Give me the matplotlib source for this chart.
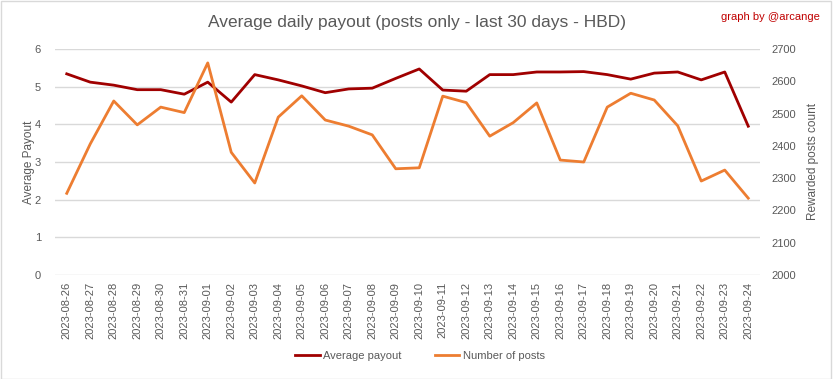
import matplotlib
matplotlib.use("Agg")
import matplotlib.pyplot as plt
from matplotlib.patches import Rectangle

dates = ["2023-08-26", "2023-08-27", "2023-08-28", "2023-08-29", "2023-08-30", "2023-08-31",
         "2023-09-01", "2023-09-02", "2023-09-03", "2023-09-04", "2023-09-05", "2023-09-06",
         "2023-09-07", "2023-09-08", "2023-09-09", "2023-09-10", "2023-09-11", "2023-09-12",
         "2023-09-13", "2023-09-14", "2023-09-15", "2023-09-16", "2023-09-17", "2023-09-18",
         "2023-09-19", "2023-09-20", "2023-09-21", "2023-09-22", "2023-09-23", "2023-09-24"]
avg_payout = [5.34, 5.12, 5.04, 4.92, 4.92, 4.80, 5.12, 4.59, 5.32, 5.18, 5.02, 4.84,
              4.94, 4.96, 5.22, 5.47, 4.91, 4.88, 5.32, 5.32, 5.39, 5.39, 5.40, 5.32,
              5.20, 5.36, 5.39, 5.18, 5.39, 3.95]
num_posts = [2253, 2406, 2539, 2465, 2520, 2503, 2657, 2380, 2285, 2489, 2555, 2480,
             2461, 2434, 2329, 2332, 2554, 2534, 2430, 2472, 2533, 2356, 2350, 2520,
             2563, 2542, 2462, 2291, 2325, 2238]

plt.rcParams['font.family'] = ['Liberation Sans', 'DejaVu Sans']
text_color = '#595959'
red = '#A00000'
orange = '#ED7D31'

fig = plt.figure(figsize=(8.33, 3.79), dpi=100)
fig.patches.append(Rectangle((0.001, 0.001), 0.997, 0.996, transform=fig.transFigure,
                             fill=False, edgecolor='#D9D9D9', linewidth=1))

ax = fig.add_axes([55/833, 1 - 275/379, (760 - 55)/833, (275 - 49)/379])
ax2 = ax.twinx()

x = list(range(len(dates)))
l1, = ax.plot(x, avg_payout, color=red, linewidth=2, label='Average payout', zorder=3)
l2, = ax2.plot(x, num_posts, color=orange, linewidth=2, label='Number of posts', zorder=3)

ax.set_ylim(0, 6)
ax2.set_ylim(2000, 2700)
ax.set_yticks(range(0, 7))
ax2.set_yticks(range(2000, 2701, 100))
ax.set_xlim(-0.5, len(dates) - 0.5)
ax.set_xticks(x)
ax.set_xticklabels(dates, rotation=90, fontsize=7.5, color=text_color)

ax.grid(axis='y', color='#D9D9D9', linewidth=1)
ax.set_axisbelow(True)
for a in (ax, ax2):
    for s in a.spines.values():
        s.set_visible(False)
    a.tick_params(length=0, labelsize=8, colors=text_color)
ax.tick_params(axis='y', pad=10)
ax2.tick_params(axis='y', pad=8)
ax.tick_params(axis='x', pad=5)

ax.set_ylabel('Average Payout', fontsize=8.5, color=text_color, labelpad=0)
ax2.set_ylabel('Rewarded posts count', fontsize=8.5, color=text_color, labelpad=8)

fig.text(0.5, 1 - 23/379, 'Average daily payout (posts only - last 30 days - HBD)',
         ha='center', va='center', fontsize=12.5, color=text_color)
fig.text(820/833, 1 - 17/379, 'graph by @arcange', ha='right', va='center',
         fontsize=8, color='#C00000')

fig.legend(handles=[l1, l2], loc='center', bbox_to_anchor=(420/833, 1 - 356/379),
           ncol=2, frameon=False, fontsize=8, labelcolor=text_color,
           handlelength=2.2, columnspacing=3, handletextpad=0.3)

fig.savefig('out.png', dpi=100)
